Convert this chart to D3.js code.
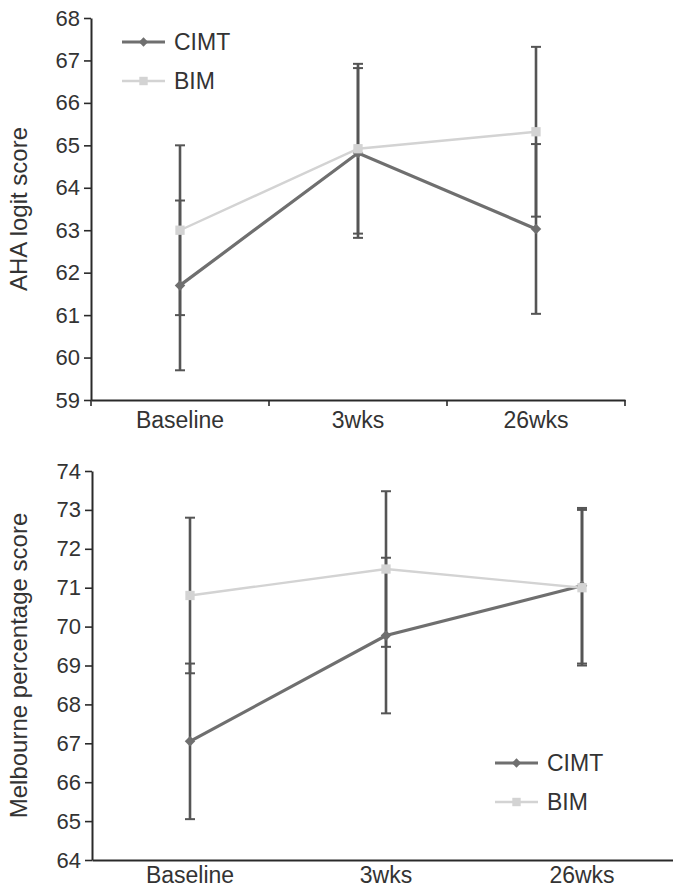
<!DOCTYPE html>
<html>
<head>
<meta charset="utf-8">
<script src="https://cdn.jsdelivr.net/npm/d3@7"></script>
<style>
  html, body { margin: 0; padding: 0; background: #fff; }
  svg { display: block; font-family: "Liberation Sans", Arial, Helvetica, sans-serif; }
</style>
</head>
<body>
<svg id="chart" width="673" height="891"></svg>
<script>
// Time points
const categories = ["Baseline", "3wks", "26wks"];
const seriesNames = ["CIMT", "BIM"];

// AHA logit score: means and error half-widths
const ahaCIMT = [61.7, 64.82, 63.03];
const ahaCIMTErr = [2.0, 2.0, 2.0];
const ahaBIM = [63.0, 64.92, 65.32];
const ahaBIMErr = [2.0, 2.0, 2.0];
const ahaTicks = [59, 60, 61, 62, 63, 64, 65, 66, 67, 68];

// Melbourne percentage score: means and error half-widths
const melbCIMT = [67.05, 69.77, 71.05];
const melbCIMTErr = [2.0, 2.0, 2.0];
const melbBIM = [70.8, 71.48, 71.0];
const melbBIMErr = [2.0, 2.0, 2.0];
const melbTicks = [64, 65, 66, 67, 68, 69, 70, 71, 72, 73, 74];

const colors = { CIMT: "#6f6f6f", BIM: "#d3d3d3" };
const errColor = "#555";
const axisColor = "#2a2a2a";
const textColor = "#333";
const tickFont = "22px";
const labelFont = "23px";
const titleFont = "24px";

const svg = d3.select("#chart");

function panel(cfg) {
  const g = svg.append("g");
  const x = d3.scaleBand().domain(categories).range(cfg.xRange).padding(0);
  const y = d3.scaleLinear().domain(cfg.yDomain).range(cfg.yRange);

  // y axis
  const yAxis = g.append("g")
    .attr("transform", `translate(${cfg.xRange[0]},0)`)
    .call(d3.axisLeft(y).tickValues(cfg.ticks).tickSize(7).tickSizeOuter(0).tickPadding(4).tickFormat(d3.format("d")));
  yAxis.select(".domain").attr("stroke", axisColor).attr("stroke-width", 2);
  yAxis.selectAll(".tick line").attr("stroke", axisColor).attr("stroke-width", 1.6);
  yAxis.selectAll(".tick text").attr("fill", textColor).style("font-size", tickFont);

  // x axis
  const xAxis = g.append("g")
    .attr("transform", `translate(0,${cfg.yRange[0]})`)
    .call(d3.axisBottom(x).tickSize(0).tickPadding(cfg.xPad));
  xAxis.select(".domain").attr("stroke", axisColor).attr("stroke-width", 2);
  xAxis.selectAll(".tick text").attr("fill", textColor).style("font-size", labelFont);
  if (cfg.xTicks) {
    const bounds = categories.map(c => x(c)).concat([x(categories[categories.length - 1]) + x.bandwidth()]);
    g.append("g").selectAll("line").data(bounds).join("line")
      .attr("x1", d => d).attr("x2", d => d)
      .attr("y1", cfg.yRange[0]).attr("y2", cfg.yRange[0] + 6)
      .attr("stroke", axisColor).attr("stroke-width", 1.6);
  }

  // y axis title
  g.append("text")
    .attr("transform", `translate(${cfg.titleX},${(cfg.yRange[0] + cfg.yRange[1]) / 2}) rotate(-90)`)
    .attr("text-anchor", "middle")
    .attr("fill", textColor)
    .style("font-size", titleFont)
    .text(cfg.title);

  const cx = c => x(c) + x.bandwidth() / 2;
  const series = [
    { name: "CIMT", values: cfg.cimt, errs: cfg.cimtErr },
    { name: "BIM", values: cfg.bim, errs: cfg.bimErr }
  ];

  // error bars
  series.forEach(s => {
    const eg = g.append("g");
    categories.forEach((c, i) => {
      const lo = s.values[i] - s.errs[i], hi = s.values[i] + s.errs[i];
      eg.append("line").attr("x1", cx(c)).attr("x2", cx(c))
        .attr("y1", y(lo)).attr("y2", y(hi))
        .attr("stroke", errColor).attr("stroke-width", 2.6);
      [lo, hi].forEach(v => {
        eg.append("line").attr("x1", cx(c) - 5).attr("x2", cx(c) + 5)
          .attr("y1", y(v)).attr("y2", y(v))
          .attr("stroke", errColor).attr("stroke-width", 2);
      });
    });
  });

  // lines and markers
  const line = d3.line().x((d, i) => cx(categories[i])).y(d => y(d));
  series.forEach(s => {
    g.append("path").datum(s.values)
      .attr("d", line).attr("fill", "none")
      .attr("stroke", colors[s.name])
      .attr("stroke-width", s.name === "CIMT" ? 3.2 : 2.4);
  });
  series.forEach(s => {
    const sym = s.name === "CIMT" ? d3.symbolDiamond2 : d3.symbolSquare2;
    const size = s.name === "CIMT" ? 70 : 110;
    g.append("g").selectAll("path").data(s.values).join("path")
      .attr("transform", (d, i) => `translate(${cx(categories[i])},${y(d)})`)
      .attr("d", d3.symbol().type(sym).size(size))
      .attr("fill", colors[s.name]);
  });

  // legend
  const lg = g.append("g").attr("transform", `translate(${cfg.legend[0]},${cfg.legend[1]})`);
  seriesNames.forEach((name, i) => {
    const row = lg.append("g").attr("transform", `translate(0,${i * cfg.legendGap})`);
    row.append("line").attr("x1", 0).attr("x2", 43).attr("y1", 0).attr("y2", 0)
      .attr("stroke", colors[name]).attr("stroke-width", name === "CIMT" ? 3.2 : 2.4);
    row.append("path").attr("transform", "translate(21.5,0)")
      .attr("d", d3.symbol().type(name === "CIMT" ? d3.symbolDiamond2 : d3.symbolSquare2).size(name === "CIMT" ? 55 : 90))
      .attr("fill", colors[name]);
    row.append("text").attr("x", 52).attr("y", 0).attr("dy", "0.35em")
      .attr("fill", textColor).style("font-size", labelFont).text(name);
  });
}

panel({
  xRange: [91, 625], yDomain: [59, 68], yRange: [400, 18], ticks: ahaTicks,
  cimt: ahaCIMT, cimtErr: ahaCIMTErr, bim: ahaBIM, bimErr: ahaBIMErr,
  title: "AHA logit score", titleX: 27, xTicks: true, xPad: 12,
  legend: [122, 42], legendGap: 39
});

panel({
  xRange: [92, 680], yDomain: [64, 74], yRange: [860, 471], ticks: melbTicks,
  cimt: melbCIMT, cimtErr: melbCIMTErr, bim: melbBIM, bimErr: melbBIMErr,
  title: "Melbourne percentage score", titleX: 27, xTicks: false, xPad: 7,
  legend: [495, 763], legendGap: 39
});
</script>
</body>
</html>
